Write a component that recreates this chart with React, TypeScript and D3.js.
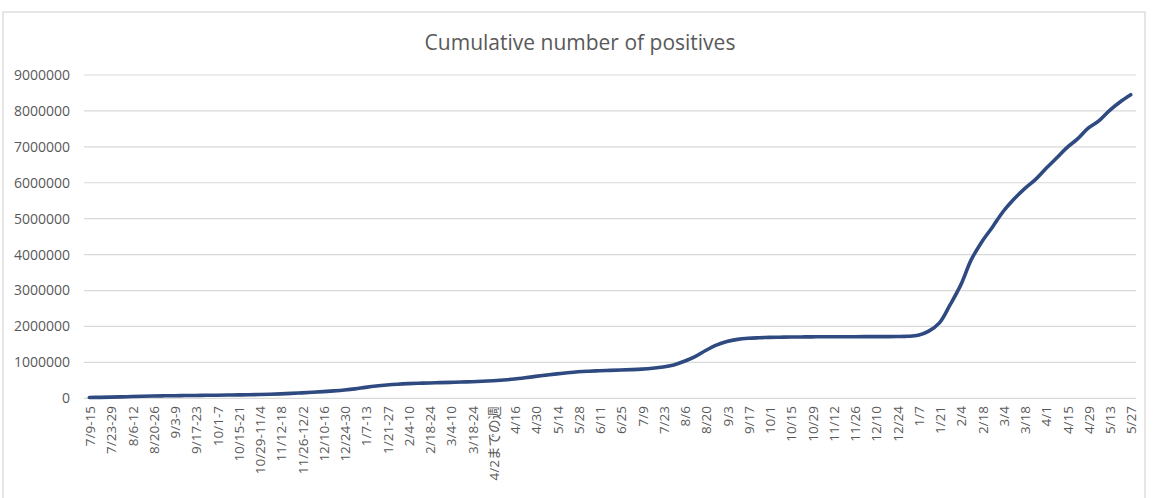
import React from "react";
import * as d3 from "d3";

const chartTitle = "Cumulative number of positives";

const tickLabels: string[] = [
  "7/9-15", "7/23-29", "8/6-12", "8/20-26", "9/3-9", "9/17-23", "10/1-7", "10/15-21",
  "10/29-11/4", "11/12-18", "11/26-12/2", "12/10-16", "12/24-30", "1/7-13", "1/21-27",
  "2/4-10", "2/18-24", "3/4-10", "3/18-24", "4/2までの週", "4/16", "4/30", "5/14", "5/28",
  "6/11", "6/25", "7/9", "7/23", "8/6", "8/20", "9/3", "9/17", "10/1", "10/15", "10/29",
  "11/12", "11/26", "12/10", "12/24", "1/7", "1/21", "2/4", "2/18", "3/4", "3/18", "4/1",
  "4/15", "4/29", "5/13", "5/27",
];

// weekly cumulative positives (one value per week; every other week is labelled)
const positives: number[] = [
  23000, 27000, 33000, 40000, 49000, 57000, 64000, 69000, 73000, 76000,
  79000, 83000, 86000, 90000, 94000, 98000, 104000, 111000, 122000, 136000,
  152000, 168000, 186000, 206000, 230000, 262000, 305000, 342000, 370000, 392000,
  408000, 419000, 428000, 436000, 444000, 452000, 462000, 475000, 490000, 510000,
  535000, 570000, 610000, 645000, 680000, 712000, 738000, 755000, 768000, 778000,
  788000, 798000, 812000, 835000, 870000, 930000, 1030000, 1160000, 1330000, 1480000,
  1580000, 1640000, 1670000, 1685000, 1695000, 1700000, 1705000, 1708000, 1711000, 1712000,
  1713000, 1714000, 1715000, 1716000, 1717000, 1718000, 1720000, 1726000, 1755000, 1870000,
  2100000, 2600000, 3150000, 3860000, 4360000, 4770000, 5200000, 5540000, 5830000, 6080000,
  6390000, 6680000, 6980000, 7220000, 7520000, 7720000, 8010000, 8250000, 8450000,
];

const yTicks: number[] = [0, 1000000, 2000000, 3000000, 4000000, 5000000, 6000000, 7000000, 8000000, 9000000];

const W = 1156;
const H = 498;
const FONT = "'Open Sans', 'Noto Sans', 'Noto Sans CJK JP', sans-serif";
const TEXT = "#595959";
const GRID = "#d9d9d9";

export default function App() {
  const plotLeft = 84;
  const plotRight = 1136;
  const plotTop = 75;
  const plotBottom = 398.3;

  const idx = positives.map((_, i) => i);
  const x = d3.scalePoint<number>().domain(idx).range([plotLeft, plotRight]).padding(0.5);
  const y = d3.scaleLinear().domain([0, 9000000]).range([plotBottom, plotTop]);

  const line = d3
    .line<number>()
    .x((_, i) => x(i) as number)
    .y((d) => y(d))
    .curve(d3.curveCatmullRom.alpha(0.5));

  return (
    <div style={{ position: "fixed", left: 0, top: 0 }}>
      <svg width={W} height={H} style={{ display: "block", background: "#fff" }}>
        <rect x={3} y={12} width={1142} height={500} fill="#fff" stroke={GRID} strokeWidth={1.3} />
        <text
          x={580}
          y={50}
          textAnchor="middle"
          fontFamily={FONT}
          fontSize={21}
          fill={TEXT}
        >
          {chartTitle}
        </text>
        {yTicks.map((t) => (
          <g key={t}>
            <line x1={plotLeft} x2={plotRight} y1={y(t)} y2={y(t)} stroke={GRID} strokeWidth={1.2} />
            <text
              x={70}
              y={y(t)}
              dy="0.35em"
              textAnchor="end"
              fontFamily={FONT}
              fontSize={14}
              fill={TEXT}
            >
              {t}
            </text>
          </g>
        ))}
        {tickLabels.map((lab, k) => {
          const cx = x(k * 2) as number;
          return (
            <text
              key={k}
              transform={`translate(${cx + 1},406) rotate(-90)`}
              dy="0.35em"
              textAnchor="end"
              fontFamily={FONT}
              fontSize={13.5}
              fill={TEXT}
            >
              {lab}
            </text>
          );
        })}
        <path
          d={line(positives) || ""}
          fill="none"
          stroke="#2E4A80"
          strokeWidth={3.6}
          strokeLinejoin="round"
          strokeLinecap="round"
        />
      </svg>
    </div>
  );
}
